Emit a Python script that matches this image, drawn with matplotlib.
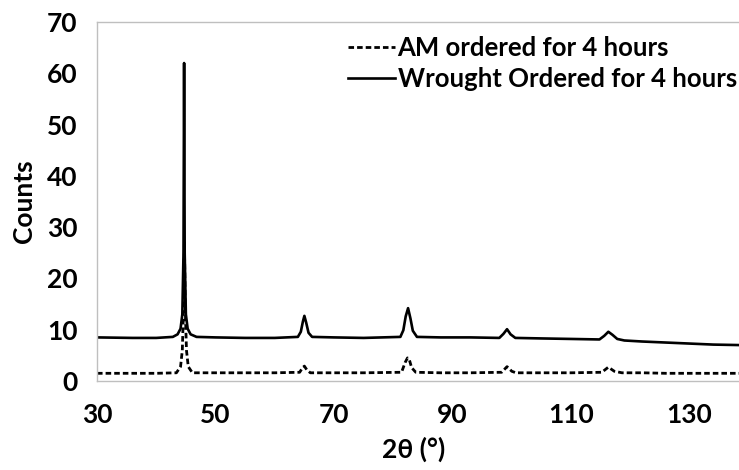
import matplotlib
matplotlib.use("Agg")
import matplotlib.pyplot as plt
from matplotlib.lines import Line2D

plt.rcParams['font.family'] = ['Lato', 'DejaVu Sans']
plt.rcParams['font.weight'] = 'bold'

# Wrought ordered for 4 hours (solid line): 2-theta, counts
wrought_x = [30, 36, 40, 42.8, 43.6, 44.1, 44.4, 44.6, 44.7, 44.8, 45.0, 45.3, 45.8, 46.8, 50, 55, 60,
             63.9, 64.4, 64.75, 65.0, 65.3, 65.7, 66.3, 70, 75, 81.2, 81.7, 82.1, 82.5, 82.9, 83.3, 84.0,
             88, 93, 97.9, 98.6, 99.2, 99.8, 100.6, 105, 110, 114.8, 115.6, 116.3, 117.0, 117.8, 119.0,
             122, 126, 130, 134, 138.6]
wrought_y = [8.5, 8.4, 8.4, 8.6, 9.1, 10.2, 13.0, 25.0, 62.0, 25.0, 13.0, 10.2, 9.1, 8.6, 8.5, 8.4, 8.4,
             8.6, 9.6, 11.6, 12.7, 11.4, 9.4, 8.6, 8.5, 8.4, 8.6, 9.9, 12.6, 14.2, 12.2, 9.8, 8.6,
             8.5, 8.5, 8.4, 9.2, 10.1, 9.1, 8.4, 8.3, 8.2, 8.1, 8.8, 9.6, 9.0, 8.2, 7.9,
             7.7, 7.5, 7.3, 7.1, 7.0]

# AM ordered for 4 hours (dashed line): 2-theta, counts
am_x = [30, 36, 40, 43.4, 44.1, 44.4, 44.6, 44.75, 44.9, 45.1, 45.4, 46.1, 50, 55, 60,
        64.2, 64.7, 65.0, 65.4, 66.0, 70, 75, 81.4, 82.0, 82.4, 82.7, 83.1, 83.8,
        88, 93, 98.3, 99.2, 100.0, 100.7, 105, 110, 115.2, 116.3, 117.3, 118.6,
        122, 126, 130, 134, 138.6]
am_y = [1.5, 1.5, 1.5, 1.6, 2.8, 6.0, 14.0, 27.0, 14.0, 6.0, 2.8, 1.6, 1.6, 1.6, 1.6,
        1.7, 2.6, 2.9, 2.2, 1.6, 1.6, 1.6, 1.7, 3.6, 4.5, 4.2, 2.6, 1.7,
        1.6, 1.6, 1.7, 2.8, 1.9, 1.6, 1.6, 1.6, 1.7, 2.7, 1.9, 1.6,
        1.6, 1.5, 1.5, 1.5, 1.5]

x_ticks = [30, 50, 70, 90, 110, 130]
y_ticks = [0, 10, 20, 30, 40, 50, 60, 70]
label_am = "AM ordered for 4 hours"
label_wrought = "Wrought Ordered for 4 hours"

fig = plt.figure(figsize=(7.39, 4.70), dpi=100)
ax = fig.add_axes([97/739, (470-381)/470, 1 - 97/739 + 0.002, (381-22)/470])

dash = (0, (2.0, 1.1))
ax.plot(am_x, am_y, color='black', lw=2.0, linestyle=dash)
ax.plot(wrought_x, wrought_y, color='black', lw=1.9)

ax.set_xlim(30, 138.6)
ax.set_ylim(0, 70)
ax.set_xticks(x_ticks)
ax.set_yticks(y_ticks)
ax.tick_params(length=0, labelsize=19)
ax.tick_params(axis='y', pad=14)
ax.tick_params(axis='x', pad=16)

for s in ['left', 'top', 'bottom']:
    ax.spines[s].set_color('#bfbfbf')
    ax.spines[s].set_linewidth(1.0)
ax.spines['right'].set_visible(False)

ax.set_xlabel("2θ (°)", fontsize=19, fontweight='bold')
ax.xaxis.set_label_coords((413 - 97) / 642, (381 - 437) / 359)
ax.set_ylabel("Counts", fontsize=19, fontweight='bold', labelpad=8)

handles = [Line2D([], [], color='black', lw=2.0, linestyle=dash),
           Line2D([], [], color='black', lw=1.9)]
leg = ax.legend(handles, [label_am, label_wrought], loc='upper left',
                bbox_to_anchor=(0.39, 0.96), frameon=False, fontsize=18.5,
                handlelength=1.85, handletextpad=0.08, labelspacing=0.25,
                borderpad=0, borderaxespad=0)
for t in leg.get_texts():
    t.set_fontweight('bold')

fig.savefig("out.png", dpi=100)
